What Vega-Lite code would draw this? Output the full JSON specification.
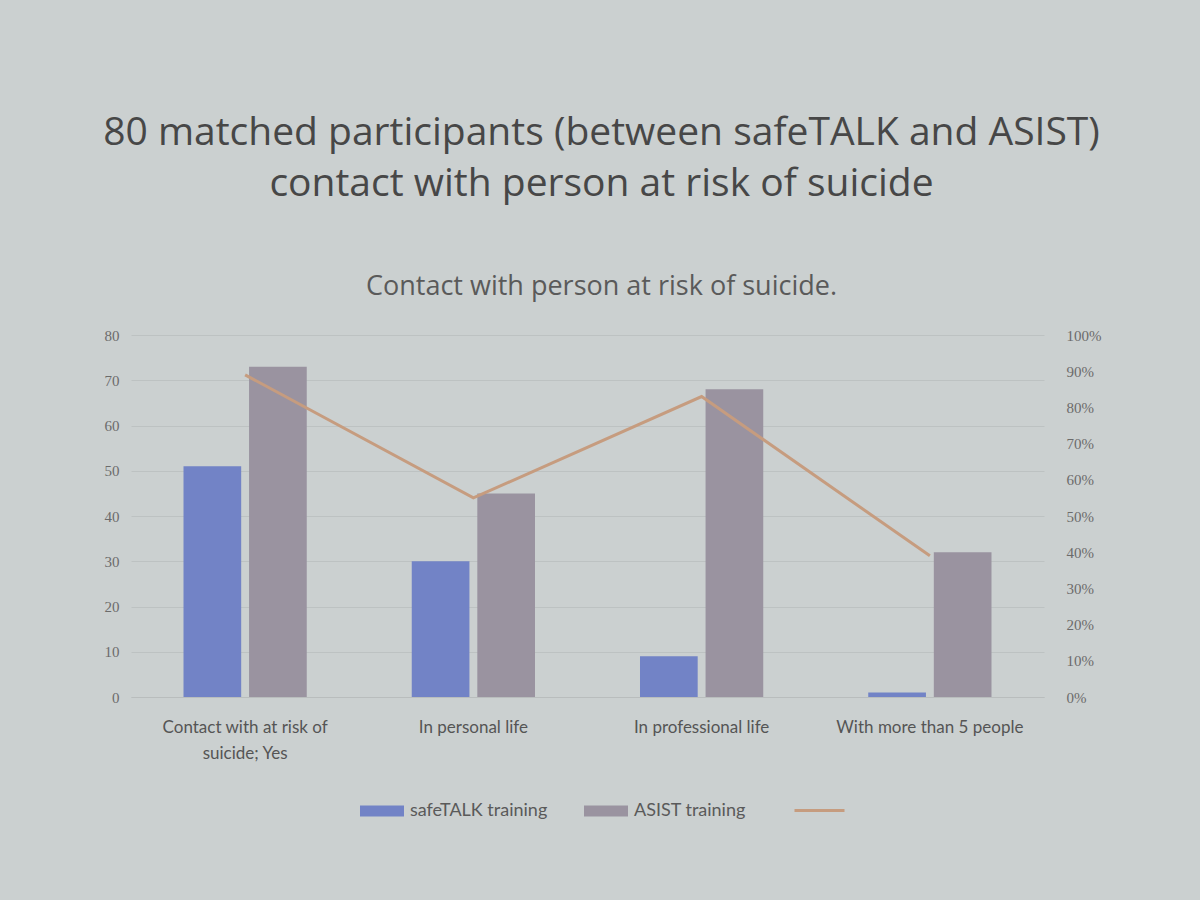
{
  "$schema": "https://vega.github.io/schema/vega-lite/v6.json",
  "description": "Contact with person at risk of suicide: safeTALK vs ASIST training counts with percentage line.",
  "width": 913,
  "height": 362,
  "autosize": {"type": "none"},
  "padding": {"left": 131, "top": 335, "right": 156, "bottom": 203},
  "background": "#cbd0d0",
  "title": {
    "text": ["80 matched participants (between safeTALK and ASIST)", "contact with person at risk of suicide"],
    "subtitle": "Contact with person at risk of suicide.",
    "font": "Open Sans",
    "fontSize": 39,
    "fontWeight": "normal",
    "color": "#474747",
    "lineHeight": 51,
    "subtitleFont": "Open Sans",
    "subtitleFontSize": 27,
    "subtitleColor": "#5a5a5a",
    "subtitlePadding": 70,
    "anchor": "middle",
    "dx": 14,
    "offset": 28
  },
  "datasets": {
    "counts": [
      {"category": "Contact with at risk of suicide; Yes", "series": "safeTALK training", "count": 51},
      {"category": "Contact with at risk of suicide; Yes", "series": "ASIST training", "count": 73},
      {"category": "In personal life", "series": "safeTALK training", "count": 30},
      {"category": "In personal life", "series": "ASIST training", "count": 45},
      {"category": "In professional life", "series": "safeTALK training", "count": 9},
      {"category": "In professional life", "series": "ASIST training", "count": 68},
      {"category": "With more than 5 people", "series": "safeTALK training", "count": 1},
      {"category": "With more than 5 people", "series": "ASIST training", "count": 32}
    ],
    "share": [
      {"category": "Contact with at risk of suicide; Yes", "pct": 0.89},
      {"category": "In personal life", "pct": 0.55},
      {"category": "In professional life", "pct": 0.83},
      {"category": "With more than 5 people", "pct": 0.39}
    ]
  },
  "encoding": {
    "x": {
      "field": "category",
      "type": "nominal",
      "sort": null,
      "scale": {"paddingInner": 0.46, "paddingOuter": 0.23},
      "axis": {
        "title": null,
        "labelAngle": 0,
        "labelFont": "Lato",
        "labelFontSize": 17,
        "labelColor": "#555555",
        "labelPadding": 22,
        "labelLineHeight": 26,
        "labelLimit": 0,
        "labelExpr": "datum.label == 'Contact with at risk of suicide; Yes' ? ['Contact with at risk of', 'suicide; Yes'] : datum.label",
        "ticks": false,
        "domainColor": "#b9bdbd"
      }
    }
  },
  "layer": [
    {
      "data": {"name": "counts"},
      "mark": {"type": "bar"},
      "encoding": {
        "xOffset": {
          "field": "series",
          "type": "nominal",
          "sort": ["safeTALK training", "ASIST training"],
          "scale": {"paddingInner": 0.12}
        },
        "y": {
          "field": "count",
          "type": "quantitative",
          "scale": {"domain": [0, 80], "nice": false},
          "axis": {
            "title": null,
            "values": [0, 10, 20, 30, 40, 50, 60, 70, 80],
            "domain": false,
            "ticks": false,
            "labelFont": "Liberation Serif",
            "labelFontSize": 15,
            "labelColor": "#6b6b6b",
            "labelPadding": 12,
            "gridColor": "#bdc2c2",
            "gridWidth": 1
          }
        },
        "color": {
          "field": "series",
          "type": "nominal",
          "sort": ["safeTALK training", "ASIST training"],
          "scale": {"domain": ["safeTALK training", "ASIST training"], "range": ["#7283c6", "#9a93a0"]},
          "legend": {
            "title": null,
            "orient": "none",
            "direction": "horizontal",
            "legendX": 229,
            "legendY": 454,
            "symbolType": "M-1,-0.25H1V0.25H-1Z",
            "symbolSize": 1936,
            "symbolStrokeWidth": 0,
            "symbolOpacity": 1,
            "labelFont": "Lato",
            "labelFontSize": 18,
            "labelColor": "#5a5a5a",
            "labelOffset": 6,
            "columnPadding": 36
          }
        }
      }
    },
    {
      "data": {"name": "share"},
      "mark": {"type": "line", "strokeWidth": 3},
      "encoding": {
        "y": {
          "field": "pct",
          "type": "quantitative",
          "scale": {"domain": [0, 1], "nice": false},
          "axis": {
            "title": null,
            "orient": "right",
            "format": ".0%",
            "values": [0, 0.1, 0.2, 0.3, 0.4, 0.5, 0.6, 0.7, 0.8, 0.9, 1],
            "domain": false,
            "ticks": false,
            "grid": false,
            "labelFont": "Liberation Serif",
            "labelFontSize": 15,
            "labelColor": "#6b6b6b",
            "labelPadding": 22
          }
        },
        "stroke": {
          "datum": "line",
          "scale": {"range": ["#c69c7f"]},
          "legend": {
            "title": null,
            "orient": "none",
            "legendX": 662,
            "legendY": 449,
            "symbolType": "stroke",
            "symbolSize": 2500,
            "symbolStrokeWidth": 3,
            "labelExpr": "''"
          }
        }
      }
    }
  ],
  "resolve": {"scale": {"y": "independent"}},
  "config": {
    "view": {"stroke": null},
    "font": "Lato"
  }
}
